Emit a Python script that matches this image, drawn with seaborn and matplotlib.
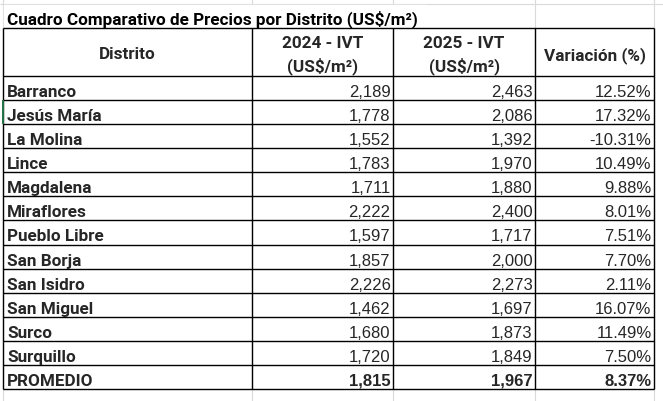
import matplotlib
matplotlib.use("Agg")
import matplotlib.pyplot as plt
import seaborn as sns

# ---- data ----
title = "Cuadro Comparativo de Precios por Distrito (US$/m²)"
headers = ["Distrito", "2024 - IVT\n(US$/m²)", "2025 - IVT\n(US$/m²)", "Variación (%)"]
districts = ["Barranco", "Jesús María", "La Molina", "Lince", "Magdalena", "Miraflores",
             "Pueblo Libre", "San Borja", "San Isidro", "San Miguel", "Surco", "Surquillo",
             "PROMEDIO"]
ivt_2024 = [2189, 1778, 1552, 1783, 1711, 2222, 1597, 1857, 2226, 1462, 1680, 1720, 1815]
ivt_2025 = [2463, 2086, 1392, 1970, 1880, 2400, 1717, 2000, 2273, 1697, 1873, 1849, 1967]
variation = [12.52, 17.32, -10.31, 10.49, 9.88, 8.01, 7.51, 7.70, 2.11, 16.07, 11.49, 7.50, 8.37]

# ---- layout (pixel units) ----
W, H = 663, 402
col_edges = [3, 252, 393, 535, 654]
title_top, header_top, header_bot, table_bot = 5, 29, 77, 390
n_rows = len(districts)
row_h = (table_bot - header_bot) / n_rows

sns.set_theme(style="white")
TEXT_FONT = ["Roboto", "DejaVu Sans"]
NUM_FONT = ["Liberation Sans", "DejaVu Sans"]
TFS = 12.3

fig = plt.figure(figsize=(W / 100, H / 100), dpi=100)
ax = fig.add_axes([0, 0, 1, 1])
ax.set_xlim(0, W)
ax.set_ylim(H, 0)
ax.axis("off")

grid_c = "#DADADA"
# Excel gridlines
for x in col_edges:
    ax.vlines(x, 0, H, color=grid_c, lw=0.8, zorder=1)
ax.hlines(title_top, 0, W, color=grid_c, lw=0.8, zorder=1)

# title cell background covers gridline under overflow text
ax.fill_between([col_edges[0] + 1, 425], title_top + 1, header_top - 1, color="white", zorder=2)
ax.text(7, 24, title, fontsize=TFS, fontweight="bold", family=TEXT_FONT,
        ha="left", va="baseline", color="black", zorder=3)

# selection marker
ax.vlines(col_edges[0], header_bot + row_h, header_bot + 2 * row_h, color="#217346", lw=1.4, zorder=6)

# black borders
ax.hlines([header_top, header_bot] + [header_bot + i * row_h for i in range(1, n_rows + 1)],
          col_edges[0], col_edges[-1], color="black", lw=1.0, zorder=4)
ax.vlines(col_edges, header_top, table_bot, color="black", lw=1.0, zorder=4)

# header
centers = [(col_edges[i] + col_edges[i + 1]) / 2 for i in range(4)]
ax.text(centers[0], 59, headers[0], fontsize=TFS, fontweight="bold", family=TEXT_FONT,
        ha="center", va="baseline", zorder=5)
for i in (1, 2):
    l1, l2 = headers[i].split("\n")
    ax.text(centers[i], 48, l1, fontsize=TFS, fontweight="bold", family=TEXT_FONT,
            ha="center", va="baseline", zorder=5)
    ax.text(centers[i], 71, l2, fontsize=TFS, fontweight="bold", family=TEXT_FONT,
            ha="center", va="baseline", zorder=5)
ax.text(centers[3], 60, headers[3], fontsize=TFS, fontweight="bold", family=TEXT_FONT,
        ha="center", va="baseline", zorder=5)

# body
for r, name in enumerate(districts):
    base = header_bot + r * row_h + 20
    last = r == n_rows - 1
    ax.text(7, base, name, fontsize=TFS, fontweight="bold", family=TEXT_FONT,
            ha="left", va="baseline", zorder=5)
    w = "bold" if last else "normal"
    ax.text(col_edges[2] - 2.5, base, f"{ivt_2024[r]:,}", fontsize=12, fontweight=w,
            family=NUM_FONT, ha="right", va="baseline", zorder=5)
    ax.text(col_edges[3] - 2.5, base, f"{ivt_2025[r]:,}", fontsize=12, fontweight=w,
            family=NUM_FONT, ha="right", va="baseline", zorder=5)
    ax.text(col_edges[4] - 2.5, base, f"{variation[r]:.2f}%", fontsize=12, fontweight=w,
            family=NUM_FONT, ha="right", va="baseline", zorder=5)

fig.savefig("out.png", dpi=100)
